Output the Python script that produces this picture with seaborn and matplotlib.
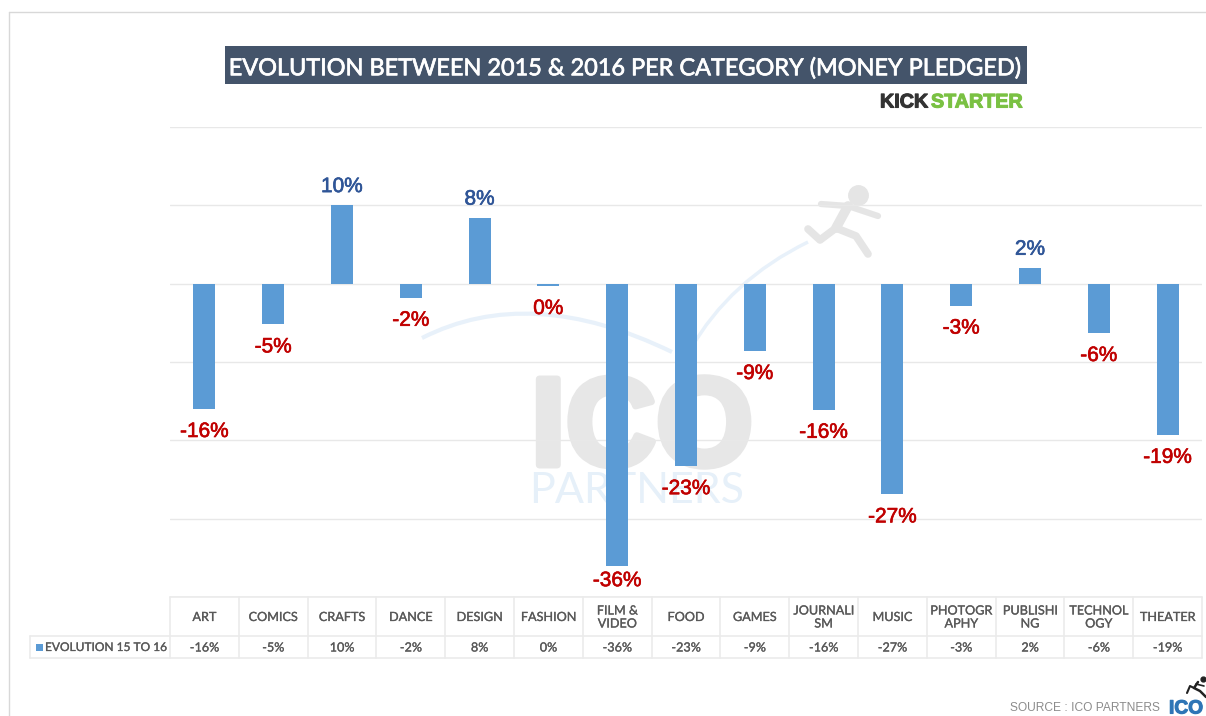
import matplotlib
matplotlib.use("Agg")
import matplotlib.pyplot as plt
import matplotlib.patheffects as pe
from matplotlib.lines import Line2D
from matplotlib.patches import Rectangle, PathPatch
from matplotlib.path import Path
import seaborn as sns
import pandas as pd

categories = ["ART", "COMICS", "CRAFTS", "DANCE", "DESIGN", "FASHION", "FILM &\nVIDEO", "FOOD", "GAMES",
              "JOURNALI\nSM", "MUSIC", "PHOTOGR\nAPHY", "PUBLISHI\nNG", "TECHNOL\nOGY", "THEATER"]
values = [-16.0, -5.2, 10.0, -1.8, 8.4, -0.3, -36.0, -23.3, -8.6, -16.1, -26.9, -2.8, 2.0, -6.3, -19.3]
labels = ["-16%", "-5%", "10%", "-2%", "8%", "0%", "-36%", "-23%", "-9%", "-16%", "-27%", "-3%", "2%", "-6%", "-19%"]
series_name = "EVOLUTION 15 TO 16"
title = "EVOLUTION BETWEEN 2015 & 2016 PER CATEGORY (MONEY PLEDGED)"

W, H = 1206, 716
sns.set_theme(style="white")
plt.rcParams["font.family"] = ["Lato", "DejaVu Sans"]
fig = plt.figure(figsize=(W / 100, H / 100), dpi=100, facecolor="white")

def fx(x): return x / W
def fy(y): return 1 - y / H
def heavy(w, c): return [pe.withStroke(linewidth=w, foreground=c)]

bg = fig.add_axes([0, 0, 1, 1], zorder=0)
bg.set_xlim(0, W); bg.set_ylim(H, 0); bg.axis("off")

# page frame
bg.add_line(Line2D([9, 9], [12, 716], color="#d8d8d8", lw=1))
bg.add_line(Line2D([9, 1206], [12, 12], color="#d8d8d8", lw=1))

# watermark
bg.text(642, 420, "ICO", fontsize=90, fontweight="bold", family="Liberation Sans", color="#e7e7e7",
        ha="center", va="center_baseline", path_effects=heavy(5, "#e7e7e7"))
bg.text(637, 491, "PARTNERS", fontsize=31, color="#e6f0f9", ha="center", va="center")
swoosh = "#e8f1fa"
bg.add_patch(PathPatch(Path([(422, 338), (530, 283), (672, 352)], [Path.MOVETO, Path.CURVE3, Path.CURVE3]),
                       fc="none", ec=swoosh, lw=3))
bg.add_patch(PathPatch(Path([(690, 350), (730, 280), (808, 242)], [Path.MOVETO, Path.CURVE3, Path.CURVE3]),
                       fc="none", ec=swoosh, lw=2.5))
run = "#e5e5e5"
for xs, ys, lw in [([848, 836], [206, 228], 7), ([836, 820, 808], [228, 240, 229], 5.5),
                   ([836, 856, 868], [228, 236, 254], 5.5), ([821, 848, 878], [204, 206, 216], 4.5)]:
    bg.add_line(Line2D(xs, ys, color=run, lw=lw, solid_capstyle="round", solid_joinstyle="round"))
bg.plot([858], [195], "o", ms=14, color=run)

# chart
ax = fig.add_axes([fx(170), fy(597), (1202 - 170) / W, (597 - 127) / H], zorder=2)
ax.patch.set_alpha(0)
df = pd.DataFrame({"category": categories, "value": values})
sns.barplot(data=df, x="category", y="value", color="#5B9BD5", saturation=1, width=0.32, ax=ax,
            edgecolor="none", linewidth=0)
ax.set_xlim(-0.5, len(categories) - 0.5)
ax.set_ylim(-40, 20)
ax.set_yticks(range(-40, 21, 10))
ax.set_axisbelow(True)
ax.grid(axis="y", color="#e8e8e8", lw=1)
ax.set_xlabel(""); ax.set_ylabel("")
ax.tick_params(left=False, bottom=False, labelleft=False, labelbottom=False)
for s in ax.spines.values():
    s.set_visible(False)
for i, (v, lab) in enumerate(zip(values, labels)):
    neg = lab.startswith("-") or lab == "0%"
    off = 13.5 if not neg else (-10.8 if v < -35 else -16.2)
    col = "#C00000" if neg else "#2F5597"
    ax.annotate(lab, (i, v), xytext=(0, off), textcoords="offset points", ha="center", va="center",
                fontsize=15, family="Liberation Sans", color=col, fontweight="normal",
                path_effects=heavy(0.45, col))

# title
bg.add_patch(Rectangle((225, 46), 802, 38, color="#44546A", lw=0))
bg.text(625, 66.5, title, color="white", fontsize=16.9, ha="center", va="center_baseline",
        path_effects=heavy(0.5, "white"))
bg.text(880, 100, "KICK", color="#333333", fontsize=14.2, fontweight="bold", family="Liberation Sans",
        ha="left", va="center_baseline", path_effects=heavy(0.8, "#333333"))
bg.text(931, 100, "STARTER", color="#7AC143", fontsize=14.2, fontweight="bold", family="Liberation Sans",
        ha="left", va="center_baseline", path_effects=heavy(0.8, "#7AC143"))

# data table
left, right, x0, top, mid, bot = 30, 1202, 170, 597, 636, 658
cw = (right - x0) / len(categories)
tc = "#ebebeb"
for y, a in [(top, x0), (mid, left), (bot, left)]:
    bg.add_line(Line2D([a, right], [y, y], color=tc, lw=1.2))
bg.add_line(Line2D([left, left], [mid, bot], color=tc, lw=1.2))
for i in range(len(categories) + 1):
    bg.add_line(Line2D([x0 + i * cw] * 2, [top, bot], color=tc, lw=1.2))
txt = "#595959"
for i, (c, lab) in enumerate(zip(categories, labels)):
    xc = x0 + (i + 0.5) * cw
    bg.text(xc, 617, c, ha="center", va="center", fontsize=9.1, color=txt, linespacing=1.1,
            path_effects=heavy(0.2, txt))
    bg.text(xc, 647.5, lab, ha="center", va="center", fontsize=9.1, color=txt, path_effects=heavy(0.2, txt))
bg.add_patch(Rectangle((36, 644), 7, 7, color="#5B9BD5", lw=0))
bg.text(45, 647.5, series_name, ha="left", va="center", fontsize=8.6, color=txt, path_effects=heavy(0.2, txt))

# source
bg.text(1160, 708, "SOURCE : ICO PARTNERS", ha="right", va="center", fontsize=8.65, color="#8c8c8c",
        family="Liberation Sans")
bg.text(1169, 707, "ICO", ha="left", va="center_baseline", fontsize=13.8, fontweight="bold", color="#2E75B6",
        family="Liberation Sans", path_effects=heavy(0.8, "#2E75B6"))
for xs, ys, lw in [([1198, 1194, 1200, 1206], [682, 688, 691, 697], 1.8), ([1194, 1190, 1187], [688, 686, 693], 1.5),
                   ([1196, 1204], [684, 686], 1.2)]:
    bg.add_line(Line2D(xs, ys, color="#222222", lw=lw))
bg.plot([1203], [679], "o", ms=3.5, color="#222222")

fig.savefig("out.png", dpi=100)
